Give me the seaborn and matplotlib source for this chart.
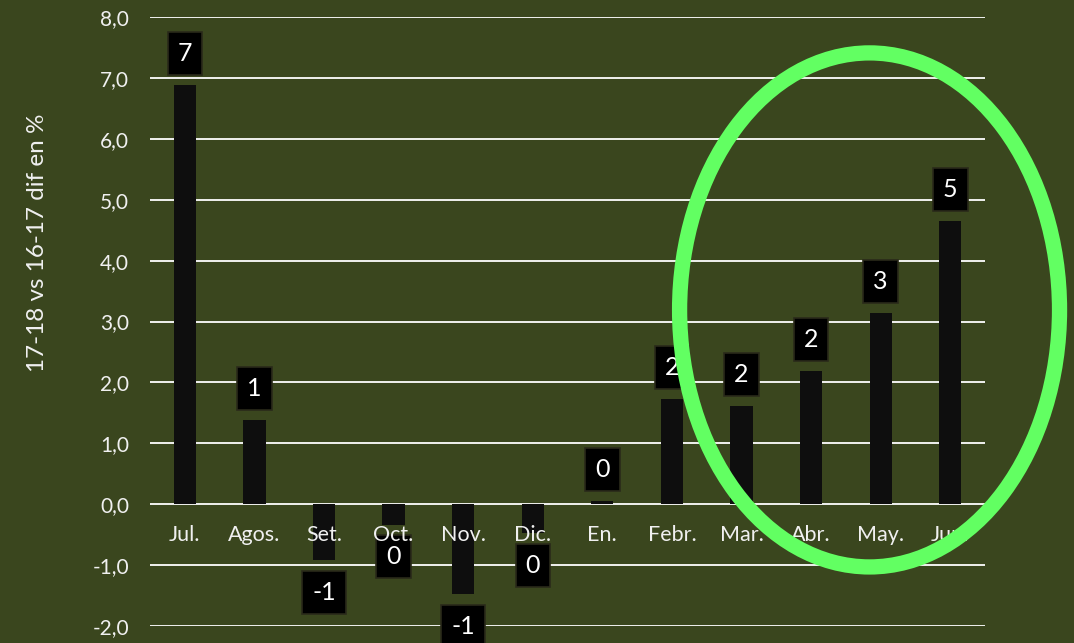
import matplotlib
matplotlib.use("Agg")
import matplotlib.pyplot as plt
from matplotlib.patches import Ellipse
from matplotlib.ticker import FuncFormatter
import seaborn as sns
import pandas as pd

months = ["Jul.", "Agos.", "Set.", "Oct.", "Nov.", "Dic.", "En.", "Febr.", "Mar.", "Abr.", "May.", "Jun."]
diff_pct = [6.88, 1.38, -0.92, -0.34, -1.48, -0.48, 0.05, 1.72, 1.61, 2.18, 3.14, 4.65]
y_ticks = [-2, -1, 0, 1, 2, 3, 4, 5, 6, 7, 8]

bg = "#3a461e"
txt = "#f0f0f0"

sns.set_style("white")
plt.rcParams["font.family"] = ["Lato", "DejaVu Sans"]

df = pd.DataFrame({"mes": months, "dif": diff_pct})

fig = plt.figure(figsize=(10.74, 6.43), dpi=100, facecolor=bg)
ax = fig.add_axes([0.1397, 0.0264, 0.7775, 0.9472])
ax.set_facecolor(bg)

sns.barplot(data=df, x="mes", y="dif", color="#0e0e0e", width=0.32,
            saturation=1, linewidth=0, ax=ax, zorder=3)

ax.set_xlim(-0.5, 11.5)
ax.set_ylim(-2, 8)
ax.set_yticks(y_ticks)
ax.yaxis.set_major_formatter(FuncFormatter(lambda v, p: f"{v:.1f}".replace(".", ",")))
ax.grid(axis="y", color="white", linewidth=1.3)
for s in ax.spines.values():
    s.set_visible(False)
ax.spines["bottom"].set_position(("data", 0))
# gridlines behind bars, month names on top of bars and label boxes
ax.yaxis.set_zorder(0.5)
ax.xaxis.set_zorder(5.5)
ax.tick_params(axis="y", length=0, pad=15, labelcolor=txt, labelsize=15)
ax.tick_params(axis="x", length=0, pad=15, labelcolor=txt, labelsize=15.5)
ax.set_xlabel("")
ax.set_ylabel("")

# data labels in black boxes
for i, v in enumerate(diff_pct):
    lab = int(round(v))
    lab = 0 if lab == 0 else lab
    off = 23 if v >= 0 else -23
    ax.annotate(f"{lab}", (i, v), xytext=(0, off), textcoords="offset points",
                ha="center", va="center", color="white", fontsize=18,
                bbox=dict(boxstyle="square,pad=0.4", fc="black", ec="#2a2a1a", lw=1.2),
                zorder=5, annotation_clip=False)

fig.text(0.035, 1 - 243 / 643, "17-18 vs 16-17 dif en %", rotation=90,
         ha="center", va="center", color=txt, fontsize=17.5)

# highlight ellipse
ell = Ellipse((9.84, 3.19), 5.46, 8.44, fill=False, ec="#62ff62", lw=11,
              zorder=6, clip_on=False)
ax.add_patch(ell)

fig.savefig("out.png", dpi=100, facecolor=bg)
